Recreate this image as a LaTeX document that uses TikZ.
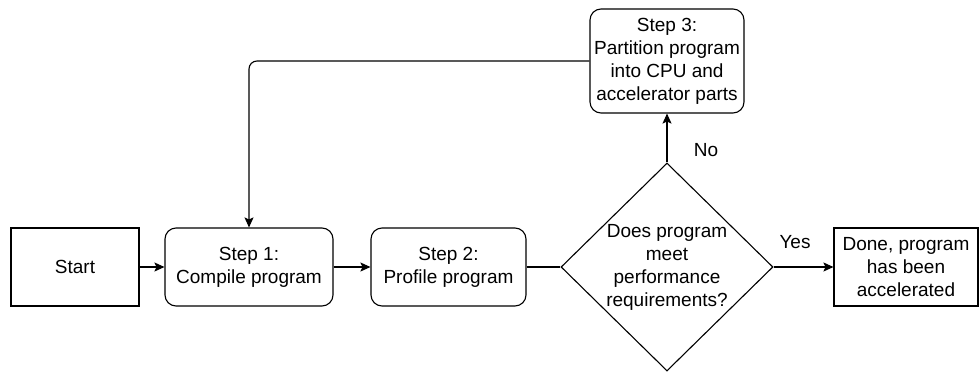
\documentclass[tikz,border=0pt]{standalone}
\usepackage{fontspec}
\setmainfont{Liberation Sans}
\usetikzlibrary{arrows.meta,shapes.geometric}
\begin{document}
\begin{tikzpicture}[x=1pt,y=-1pt,
  every node/.style={font=\fontsize{19}{23}\selectfont},
  box/.style={draw, line width=1.1pt, inner sep=0pt, align=center},
  rbox/.style={box, rounded corners=11pt},
  lab/.style={inner sep=0pt},
  conn/.style={line width=1.1pt},
  arr/.style={conn, -{Stealth[length=10pt,width=9pt,inset=2pt]}}]
\useasboundingbox (0,0) rectangle (979,372);
\node[box, minimum width=128pt, minimum height=78pt] (start) at (75,267) {Start};
\node[rbox, minimum width=168pt, minimum height=78pt] (s1) at (249,267) {Step 1:\\Compile program};
\node[rbox, minimum width=155pt, minimum height=78pt] (s2) at (448.5,267) {Step 2:\\Profile program};
\node[draw, diamond, line width=1.1pt, inner sep=0pt, minimum width=212pt, minimum height=208pt, align=center] (d) at (667,267) {Does program\\meet\\performance\\requirements?};
\node[box, minimum width=144pt, minimum height=78pt] (done) at (906,267) {Done, program\\has been\\accelerated};
\node[rbox, minimum width=154pt, minimum height=104pt] (s3) at (667,61) {Step 3:\\Partition program\\into CPU and\\accelerator parts};
\node[lab] (no) at (706,150) {No};
\node[lab] (yes) at (795,242) {Yes};
\draw[arr] (start) -- (s1);
\draw[arr] (s1) -- (s2);
\draw[conn] (s2) -- (d.west);
\draw[arr] (d.east) -- (done);
\draw[arr] (d.north) -- (s3);
\draw[arr, rounded corners=8pt] (s3.west) -| (s1.north);
\end{tikzpicture}
\end{document}
